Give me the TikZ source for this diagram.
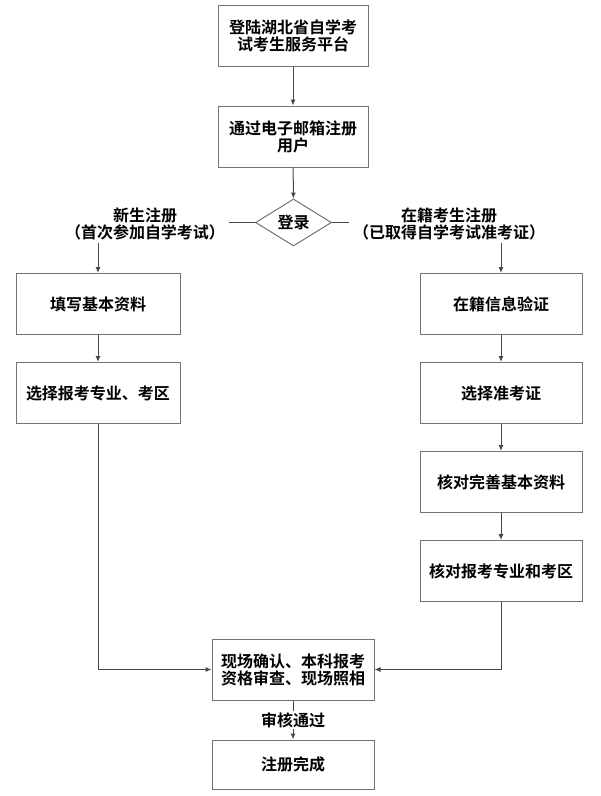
\documentclass[tikz,border=0pt]{standalone}
\usepackage{fontspec}
\newfontfamily\cjk[BoldFont={Noto Sans CJK SC Bold}]{Noto Sans CJK SC}
\usetikzlibrary{positioning,shapes.geometric,arrows.meta}
\definecolor{boxgray}{gray}{0.45}
\definecolor{arrgray}{gray}{0.28}

\begin{document}
\begin{tikzpicture}[x=1pt, y=-1pt, >={Latex[length=6pt,width=5pt]}, node distance=27pt,
  every node/.style={font=\cjk\bfseries\fontsize{16}{17}\selectfont},
  stepbox/.style={draw=boxgray, line width=1pt, align=center, minimum height=61pt, inner sep=2pt},
  link/.style={draw=arrgray, line width=1pt}]
\useasboundingbox (0,0) rectangle (601,796);
\node[stepbox, minimum width=150pt] (portal) at (293,35.5) {登陆湖北省自学考\\试考生服务平台};
\node[stepbox, minimum width=150pt] (email) at (293,136.5) {通过电子邮箱注册\\用户};
\node[draw=boxgray, line width=1pt, diamond, aspect=1.6, inner sep=0pt, minimum width=76pt, minimum height=47pt] (login) at (293.5,222.5) {登录};
\node[align=center] (newreg) at (145,223.5) {新生注册\\（首次参加自学考试）};
\node[align=center] (oldreg) at (449,223.5) {在籍考生注册\\（已取得自学考试准考证）};
\node[stepbox, minimum width=164pt] (fillin) at (98,304) {填写基本资料};
\node[stepbox, minimum width=164pt, below=of fillin] (major) {选择报考专业、考区};
\node[stepbox, minimum width=162pt] (verify) at (501,304) {在籍信息验证};
\node[stepbox, minimum width=162pt, below=of verify] (ticket) {选择准考证};
\node[stepbox, minimum width=162pt, below=of ticket] (complete) {核对完善基本资料};
\node[stepbox, minimum width=162pt, below=of complete] (checkmaj) {核对报考专业和考区};
\node[stepbox, minimum width=162pt] (onsite) at (293,669.5) {现场确认、本科报考\\资格审查、现场照相};
\node[stepbox, minimum width=162pt, minimum height=49pt] (done) at (293,764.5) {注册完成};
\draw[link, ->] (portal) -- (email);
\draw[link, ->] (email) -- (login);
\draw[link] (login.west) -- (newreg.east |- login.west);
\draw[link] (login.east) -- (oldreg.west |- login.east);
\draw[link, ->] (newreg.south -| fillin.north) -- (fillin.north);
\draw[link, ->] (oldreg.south -| verify.north) -- (verify.north);
\draw[link, ->] (fillin) -- (major);
\draw[link, ->] (verify) -- (ticket);
\draw[link, ->] (ticket) -- (complete);
\draw[link, ->] (complete) -- (checkmaj);
\draw[link, ->] (major.south) |- (onsite.west);
\draw[link, ->] (checkmaj.south) |- (onsite.east);
\draw[link, ->] (onsite) -- (done) node[midway, fill=white, inner sep=1pt] (pass) {审核通过};
\end{tikzpicture}
\end{document}
